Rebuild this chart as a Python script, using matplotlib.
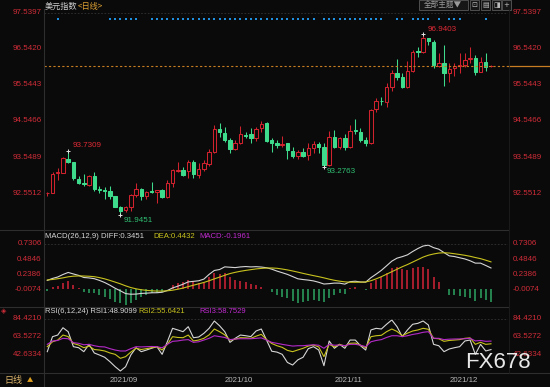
import numpy as np
import matplotlib.pyplot as plt
from matplotlib.patches import Rectangle
from matplotlib.lines import Line2D
from matplotlib.transforms import blended_transform_factory

# ---- data (daily candles, index 0..85) ----
opens = [92.55, 92.565, 93.10, 93.12, 93.505, 93.41, 92.94, 92.82, 92.78, 93.02,
         92.66, 92.64, 92.61, 92.47, 92.18, 92.08, 92.16, 92.51, 92.67, 92.48,
         92.60, 92.59, 92.65, 92.44, 92.83, 93.17, 93.20, 93.17, 93.42, 93.06,
         93.22, 93.36, 93.70, 94.33, 94.21, 94.02, 93.77, 93.93, 94.17, 94.18,
         94.08, 94.34, 94.48, 94.01, 93.95, 93.89, 93.93, 93.73, 93.58, 93.70,
         93.60, 93.81, 93.91, 93.82, 93.33, 94.11, 93.84, 94.07, 93.82, 94.29,
         94.25, 94.02, 93.93, 94.87, 95.11, 95.08, 95.48, 95.88, 95.75, 95.49,
         95.94, 96.47, 96.46, 96.83, 96.74, 96.07, 96.14, 95.88, 96.00, 96.06,
         96.09, 96.25, 96.28, 95.91, 96.17, 96.06]
highs = [92.59, 93.15, 93.24, 93.54, 93.7309, 93.42, 93.02, 93.09, 93.06, 93.15,
         92.75, 92.73, 92.75, 92.48, 92.20, 92.20, 92.52, 92.82, 92.69, 92.62,
         92.87, 92.65, 92.67, 92.91, 93.22, 93.42, 93.28, 93.47, 93.46, 93.38,
         93.47, 93.77, 94.44, 94.48, 94.38, 94.09, 94.01, 94.42, 94.25, 94.34,
         94.39, 94.55, 94.51, 94.09, 94.02, 94.13, 93.95, 93.83, 93.75, 93.79,
         93.95, 94.00, 93.98, 93.94, 94.27, 94.30, 94.11, 94.19, 94.44, 94.59,
         94.34, 94.11, 94.87, 95.17, 95.22, 95.60, 95.96, 96.25, 95.86, 96.21,
         96.51, 96.60, 96.9403, 96.85, 96.79, 96.43, 96.65, 96.14, 96.16, 96.43,
         96.42, 96.58, 96.37, 96.32, 96.43, 96.10]
lows = [92.47, 92.55, 92.92, 93.10, 93.39, 92.92, 92.80, 92.76, 92.76, 92.60,
        92.56, 92.38, 92.40, 92.17, 91.9451, 92.04, 92.07, 92.45, 92.35, 92.38,
        92.55, 92.29, 92.41, 92.41, 92.73, 93.14, 93.02, 92.96, 92.98, 92.98,
        93.16, 93.31, 93.65, 94.11, 93.96, 93.65, 93.74, 93.90, 94.08, 93.93,
        93.99, 94.23, 93.97, 93.70, 93.81, 93.84, 93.49, 93.52, 93.49, 93.54,
        93.47, 93.67, 93.67, 93.2763, 93.29, 93.79, 93.77, 93.74, 93.79, 94.19,
        93.98, 93.86, 93.91, 94.80, 94.99, 94.94, 95.38, 95.68, 95.47, 95.47,
        95.91, 96.31, 96.42, 96.65, 96.00, 96.05, 95.51, 95.63, 95.79, 95.87,
        96.05, 96.14, 95.82, 95.90, 95.94, 96.03]
closes = [92.56, 93.08, 93.145, 93.515, 93.41, 92.96, 92.84, 92.80, 93.03, 92.68,
          92.64, 92.62, 92.47, 92.18, 92.07, 92.16, 92.50, 92.66, 92.48, 92.58,
          92.58, 92.63, 92.44, 92.82, 93.19, 93.19, 93.05, 93.42, 93.07, 93.21,
          93.38, 93.68, 94.33, 94.23, 94.02, 93.77, 93.93, 94.18, 94.14, 94.09,
          94.32, 94.47, 94.00, 93.93, 93.88, 93.91, 93.75, 93.57, 93.70, 93.58,
          93.79, 93.90, 93.82, 93.33, 94.11, 93.84, 94.07, 93.82, 94.28, 94.27,
          94.02, 93.93, 94.85, 95.10, 95.10, 95.48, 95.86, 95.77, 95.49, 95.94,
          96.46, 96.45, 96.83, 96.76, 96.09, 96.14, 95.88, 95.98, 96.08, 96.09,
          96.23, 96.30, 95.91, 96.17, 96.05, 96.07]

diff = [0.145, 0.177, 0.200, 0.240, 0.273, 0.249, 0.226, 0.192, 0.185, 0.173,
        0.145, 0.111, 0.068, 0.019, -0.022, -0.067, -0.077, -0.075, -0.064, -0.060,
        -0.054, -0.053, -0.045, -0.017, 0.024, 0.052, 0.084, 0.121, 0.130, 0.139,
        0.166, 0.242, 0.305, 0.320, 0.363, 0.357, 0.351, 0.362, 0.368, 0.362,
        0.366, 0.360, 0.349, 0.326, 0.295, 0.269, 0.242, 0.207, 0.171, 0.159,
        0.150, 0.137, 0.115, 0.087, 0.093, 0.102, 0.101, 0.085, 0.125, 0.132,
        0.120, 0.117, 0.189, 0.246, 0.307, 0.380, 0.455, 0.503, 0.527, 0.556,
        0.610, 0.658, 0.698, 0.712, 0.672, 0.647, 0.593, 0.540, 0.529, 0.509,
        0.490, 0.461, 0.423, 0.423, 0.385, 0.3451]
dea = [0.152, 0.160, 0.172, 0.186, 0.203, 0.213, 0.217, 0.216, 0.212, 0.205,
       0.190, 0.170, 0.145, 0.118, 0.090, 0.058, 0.030, 0.010, -0.005, -0.015,
       -0.022, -0.026, -0.026, -0.022, -0.012, 0.003, 0.022, 0.045, 0.068, 0.090,
       0.112, 0.140, 0.170, 0.198, 0.228, 0.255, 0.275, 0.292, 0.306, 0.318,
       0.330, 0.338, 0.344, 0.345, 0.340, 0.328, 0.314, 0.297, 0.278, 0.258,
       0.240, 0.222, 0.205, 0.186, 0.165, 0.147, 0.133, 0.122, 0.116, 0.115,
       0.117, 0.120, 0.140, 0.170, 0.205, 0.245, 0.285, 0.325, 0.365, 0.400,
       0.440, 0.480, 0.520, 0.550, 0.570, 0.585, 0.590, 0.585, 0.574, 0.562,
       0.549, 0.533, 0.513, 0.495, 0.470, 0.4432]
macd_hist = [-0.020, 0.034, 0.055, 0.108, 0.140, 0.071, 0.018, -0.047, -0.053, -0.063,
             -0.090, -0.117, -0.154, -0.198, -0.224, -0.250, -0.214, -0.170, -0.117, -0.090,
             -0.063, -0.053, -0.037, 0.010, 0.071, 0.098, 0.124, 0.151, 0.124, 0.098,
             0.108, 0.204, 0.269, 0.243, 0.269, 0.204, 0.151, 0.140, 0.124, 0.087,
             0.071, 0.043, 0.010, -0.037, -0.090, -0.117, -0.143, -0.180, -0.214, -0.198,
             -0.180, -0.170, -0.180, -0.198, -0.143, -0.090, -0.063, -0.074, 0.018, 0.034,
             0.005, -0.005, 0.098, 0.151, 0.204, 0.269, 0.339, 0.355, 0.323, 0.312,
             0.339, 0.355, 0.355, 0.323, 0.204, 0.124, 0.005, -0.090, -0.090, -0.106,
             -0.117, -0.143, -0.180, -0.143, -0.170, -0.1961]

rsi1 = [46.5, 63.9, 65.8, 74.3, 69.7, 52.3, 51.1, 46.5, 55.0, 45.0,
        42.6, 40.0, 34.9, 29.1, 24.1, 29.0, 42.6, 51.1, 46.5, 48.4,
        50.5, 52.3, 43.4, 58.1, 73.6, 71.7, 69.7, 75.5, 62.7, 63.5,
        67.8, 73.6, 82.1, 76.6, 69.7, 57.3, 62.0, 65.8, 65.0, 64.0,
        70.5, 72.8, 60.0, 47.0, 46.0, 43.4, 34.0, 31.0, 37.0, 40.0,
        50.0, 52.3, 48.4, 30.2, 58.9, 50.4, 55.0, 50.4, 60.0, 60.0,
        53.4, 48.4, 71.7, 73.6, 72.8, 78.3, 83.3, 75.5, 63.9, 71.7,
        78.3, 79.4, 82.1, 77.5, 55.0, 53.4, 46.5, 49.6, 51.1, 52.3,
        58.9, 60.0, 43.4, 55.0, 47.3, 48.9099]
rsi2 = [52.3, 58.0, 60.0, 65.8, 64.0, 56.0, 54.2, 51.1, 53.0, 49.0,
        48.4, 47.3, 45.0, 43.4, 38.8, 40.7, 46.0, 50.5, 49.0, 50.0,
        51.1, 52.3, 48.4, 55.0, 63.9, 63.0, 62.7, 65.8, 58.9, 60.0,
        62.0, 66.0, 72.8, 69.7, 66.0, 60.0, 61.0, 62.7, 62.5, 62.0,
        64.5, 66.6, 60.5, 56.0, 53.4, 51.5, 48.0, 46.5, 48.5, 50.4,
        53.0, 54.2, 52.0, 40.7, 55.0, 52.0, 55.0, 53.0, 56.2, 56.5,
        54.0, 51.1, 63.9, 65.0, 65.5, 69.7, 72.8, 70.0, 65.0, 68.0,
        70.5, 71.7, 73.6, 72.5, 62.0, 61.5, 58.5, 59.5, 60.0, 60.5,
        62.0, 62.5, 55.0, 57.4, 55.0, 55.6421]
rsi3 = [55.0, 58.9, 59.5, 62.0, 61.5, 57.0, 56.2, 54.5, 55.0, 53.4,
        52.3, 52.0, 50.0, 48.4, 47.3, 47.3, 50.0, 52.3, 52.0, 52.3,
        52.5, 52.3, 51.0, 55.0, 58.5, 59.0, 60.0, 60.5, 57.3, 58.0,
        60.0, 62.0, 65.0, 64.0, 63.0, 60.5, 61.2, 61.5, 61.5, 61.5,
        62.0, 62.5, 60.0, 57.3, 56.2, 55.0, 54.0, 53.0, 53.4, 53.4,
        54.0, 54.5, 54.0, 50.4, 55.0, 54.0, 54.2, 53.5, 55.0, 55.0,
        54.0, 52.3, 58.0, 59.5, 60.5, 63.0, 65.0, 65.0, 64.0, 65.0,
        66.5, 67.5, 69.0, 69.7, 62.0, 62.0, 60.5, 61.0, 61.2, 61.3,
        61.5, 62.0, 59.0, 59.5, 58.5, 58.7529]

# days flagged with the blue dot row at the top
signal_days = [2, 12, 13, 14, 15, 16, 17] + list(range(20, 52)) + list(range(53, 65)) + \
              [67, 68, 70, 71, 72, 73, 75, 77, 78, 79, 84]

price_ticks = [92.5512, 93.5489, 94.5466, 95.5443, 96.5420, 97.5397]
macd_ticks = [-0.0074, 0.2386, 0.4846, 0.7306]
rsi_ticks = [42.6334, 63.5272, 84.4210]
month_starts = [12, 34, 55, 77]
month_labels = ['2021/09', '2021/10', '2021/11', '2021/12']
extremes = [(4, 93.7309, 'high'), (14, 91.9451, 'low'), (53, 93.2763, 'low'), (72, 96.9403, 'high')]

# ---- style ----
BG = '#0a0a0a'
RED = '#d0222e'
GREEN = '#3edb8c'
LBL = '#d02c38'
GRID = '#333333'
LAT = ['Liberation Sans', 'Noto Sans CJK SC']
CJK = ['Noto Sans CJK SC', 'DejaVu Sans']

W, H = 550, 387
fig = plt.figure(figsize=(5.5, 3.87), dpi=100)
fig.patch.set_facecolor(BG)


def rect(l, t, r, b):
    return [l / W, 1 - b / H, (r - l) / W, (b - t) / H]


def fx(px):
    return px / W


def fy(py):
    return 1 - py / H


XL = (-0.63, 88.26)
ax = fig.add_axes(rect(44, 10, 508, 229))
ax_m = fig.add_axes(rect(44, 231, 508, 306))
ax_r = fig.add_axes(rect(44, 307, 508, 372))
ax_b = fig.add_axes(rect(44, 373, 508, 387))
for a in (ax, ax_m, ax_r, ax_b):
    a.set_facecolor(BG)
    a.set_xlim(*XL)
    for s in a.spines.values():
        s.set_visible(False)
    a.set_xticks([])
    a.set_yticks([])

ax.set_ylim(91.562, 97.614)
ax_m.set_ylim(-0.2664, 0.9396)
ax_r.set_ylim(22.9, 98.35)
ax_b.set_ylim(0, 1)


def ylabels(a, ticks, fmt):
    for v in ticks:
        a.annotate(fmt.format(v), xy=(0, v), xycoords=('axes fraction', 'data'),
                   xytext=(-1.6, 0), textcoords='offset points', ha='right', va='center',
                   color=LBL, fontsize=5.8, family=LAT, annotation_clip=False)
        a.annotate(fmt.format(v), xy=(1, v), xycoords=('axes fraction', 'data'),
                   xytext=(3.4, 0), textcoords='offset points', ha='left', va='center',
                   color=LBL, fontsize=5.8, family=LAT, annotation_clip=False)


# ---- candles ----
bw = 0.66
for i in range(len(closes)):
    o, h, l, c = opens[i], highs[i], lows[i], closes[i]
    up = c >= o
    col = RED if up else GREEN
    lo_b, hi_b = min(o, c), max(o, c)
    ax.vlines(i, hi_b, h, color=col, lw=0.75)
    ax.vlines(i, l, lo_b, color=col, lw=0.75)
    ax.add_patch(Rectangle((i - bw / 2, lo_b), bw, max(hi_b - lo_b, 0.004),
                           facecolor=BG if up else col, edgecolor=col, lw=0.75))

ax.axhline(price_ticks[-1], color=GRID, lw=0.6, ls=(0, (2, 2)))
ax.axhline(closes[-1], color='#c97d22', lw=0.8, ls=(0, (2, 2)))
ax.plot([XL[1], 96.4], [closes[-1], closes[-1]], color='#c97d22', lw=0.9, clip_on=False)

tr = blended_transform_factory(ax.transData, ax.transAxes)
ax.scatter(signal_days, [0.960] * len(signal_days), marker='s', s=2.2, color='#1f8fe0',
           transform=tr, lw=0)

for i, v, kind in extremes:
    ax.plot(i, v, marker='+', color='#e0e0e0', ms=3.5, mew=0.7)
    if kind == 'high':
        ax.annotate(f'{v:.4f}', xy=(i, v), xytext=(3, 3.6), textcoords='offset points',
                    ha='left', va='center', color='#e02a36', fontsize=5.8, family=LAT)
    else:
        ax.annotate(f'{v:.4f}', xy=(i, v), xytext=(2.2, -3.6), textcoords='offset points',
                    ha='left', va='center', color='#2fc072', fontsize=5.8, family=LAT)

ylabels(ax, price_ticks, '{:.4f}')

# ---- MACD ----
x = np.arange(len(closes))
for i, v in enumerate(macd_hist):
    ax_m.vlines(i, 0, v, color='#c42235' if v >= 0 else '#2a9a5c', lw=1.2)
ax_m.plot(x, diff, color='#d6d6d6', lw=0.8)
ax_m.plot(x, dea, color='#c8c21e', lw=0.8)
ax_m.axhline(macd_ticks[-1], color=GRID, lw=0.6, ls=(0, (2, 2)))
ylabels(ax_m, macd_ticks, '{:.4f}')

# ---- RSI ----
ax_r.plot(x, rsi1, color='#d6d6d6', lw=0.8)
ax_r.plot(x, rsi2, color='#c8c21e', lw=0.8)
ax_r.plot(x, rsi3, color='#b42ac8', lw=0.8)
ax_r.axhline(rsi_ticks[-1], color=GRID, lw=0.6, ls=(0, (2, 2)))
ylabels(ax_r, rsi_ticks, '{:.4f}')

# ---- bottom date band ----
for m, lab in zip(month_starts, month_labels):
    ax_b.text(m, 0.5, lab, ha='left', va='center', color='#b8b8b8', fontsize=5.7, family=LAT)

# ---- frame lines ----
for y in (230, 306.5):
    fig.add_artist(Line2D([0, 508 / W], [fy(y), fy(y)], color='#2e2e2e', lw=0.8))
fig.add_artist(Line2D([0, 1], [fy(372.5), fy(372.5)], color='#2e2e2e', lw=0.8))
fig.add_artist(Line2D([fx(43.5), fx(43.5)], [fy(9), fy(387)], color='#2e2e2e', lw=0.8))
fig.add_artist(Line2D([fx(508.5), fx(508.5)], [fy(9), fy(373)], color='#1e1e1e', lw=0.6))

# ---- titles ----
fig.text(fx(45), fy(6), '美元指数', color='#cfcfcf', fontsize=5.9, family=CJK, va='center')
fig.text(fx(77.5), fy(6), '<日线>', color='#dca032', fontsize=5.9, family=CJK, va='center')

fig.text(fx(45), fy(236.5), 'MACD(26,12,9) DIFF:0.3451', color='#d6d6d6', fontsize=5.6, family=LAT, va='center')
fig.text(fx(153), fy(236.5), 'DEA:0.4432', color='#c8c21e', fontsize=5.6, family=LAT, va='center')
fig.text(fx(199), fy(236.5), 'MACD:-0.1961', color='#c02ad0', fontsize=5.6, family=LAT, va='center')

fig.text(fx(45), fy(311.5), 'RSI(6,12,24) RSI1:48.9099', color='#d6d6d6', fontsize=5.5, family=LAT, va='center')
fig.text(fx(138), fy(311.5), 'RSI2:55.6421', color='#c8c21e', fontsize=5.5, family=LAT, va='center')
fig.text(fx(199), fy(311.5), 'RSI3:58.7529', color='#c02ad0', fontsize=5.5, family=LAT, va='center')
fig.text(fx(4), fy(311), '◈', color='#d02c38', fontsize=5, ha='center', va='center')

fig.text(fx(4), fy(380), '日线', color='#dcb46a', fontsize=6.5, family=CJK, va='center')
fig.text(fx(27), fy(380), '▲', color='#e0a020', fontsize=4.5, family=CJK, va='center')

# ---- toolbar (top right) ----
fig.add_artist(Rectangle((fx(419), fy(9.5)), fx(49), 9.5 / H, facecolor='#161616',
                         edgecolor='#5a5a5a', lw=0.6, transform=fig.transFigure))
fig.text(fx(443), fy(4.5), '全部主题▼', color='#9a9a9a', fontsize=5.5, family=CJK,
         ha='center', va='center')
for lft, glyph in zip([470, 481, 492, 502], ['⊡', '▤', '◨', '+']):
    fig.add_artist(Rectangle((fx(lft), fy(9.5)), fx(9), 9.5 / H, facecolor='#161616',
                             edgecolor='#5a5a5a', lw=0.6, transform=fig.transFigure))
    fig.text(fx(lft + 4.5), fy(4.8), glyph, color='#bbbbbb', fontsize=5, ha='center', va='center',
             family=['DejaVu Sans'])

# ---- watermark ----
fig.text(fx(465), fy(363), 'FX678', color='#e8e8e8', fontsize=16, family=LAT, va='center')

fig.savefig('out.png', dpi=100, facecolor=BG)
